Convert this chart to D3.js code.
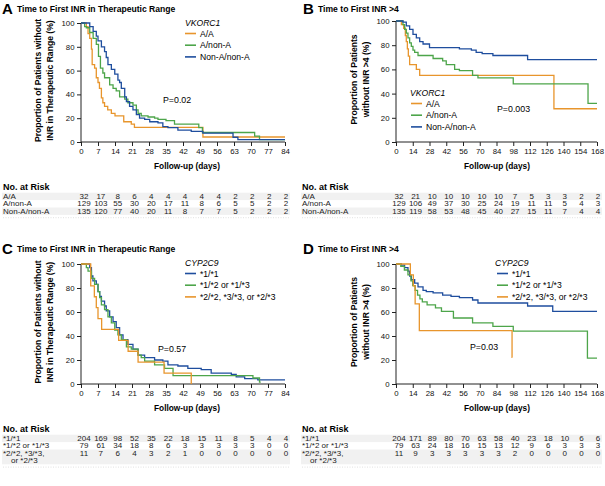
<!DOCTYPE html>
<html><head><meta charset="utf-8">
<script src="https://cdn.jsdelivr.net/npm/d3@7"></script>
<style>
body{margin:0;background:#fff;}
svg{font-family:"Liberation Sans",Arial,sans-serif;}
</style></head>
<body><svg id="c" width="605" height="486"></svg>
<script>
// ---------- data ----------
const ticksA = [0,7,14,21,28,35,42,49,56,63,70,77,84];
const ticksB = [0,14,28,42,56,70,84,98,112,126,140,154,168];
const yTicks = [0,20,40,60,80,100];

const vkLabels = ["A/A","A/non-A","Non-A/non-A"];
const cypLabels = ["*1/*1","*1/*2 or *1/*3","*2/*2, *3/*3, or *2/*3"];
const cypRiskLabels = [["*1/*1"],["*1/*2 or *1/*3"],["*2/*2, *3/*3,","or *2/*3"]];

const riskA = [[32,17,8,6,4,4,4,4,4,2,2,2,2],[129,103,55,30,20,17,11,8,6,5,5,2,2],[135,120,77,40,20,11,8,7,7,5,2,2,2]];
const riskB = [[32,21,10,10,10,10,10,7,5,3,3,2,2],[129,106,49,37,30,25,24,19,11,11,5,4,3],[135,119,58,53,48,45,40,27,15,11,7,4,4]];
const riskC = [[204,169,98,52,35,22,18,15,11,8,5,4,4],[79,61,34,18,8,6,3,3,3,3,3,0,0],[11,7,6,4,3,2,1,0,0,0,0,0,0]];
const riskD = [[204,171,89,80,70,63,58,40,23,18,10,6,6],[79,63,24,18,16,15,13,12,9,6,3,3,3],[11,9,3,3,3,3,3,2,0,0,0,0,0]];

// Panel A: time to first INR in therapeutic range, VKORC1
const A_AA = [[0,100],[2.2,97],[2.9,91],[3.6,87],[4.3,78],[4.6,65],[5.6,62],[6.3,54],[7,50],[7.6,45],[8.4,37],[9,33],[9.7,30],[11,27],[12.5,24],[14,22],[17.6,17],[20.7,15],[22,12.3],[50.2,4.2],[84,4.2]];
const A_AN = [[0,100],[1.5,97],[2.2,96],[3.6,92],[5,87],[6.3,82],[7.2,72],[8,62],[9,58],[9.7,54],[11.8,48],[13.2,45],[14.5,43],[15.9,38],[18,36],[19.3,33],[21.4,31],[22.8,27],[23.5,24],[24.8,22],[27.6,21],[30.3,20],[31.7,19],[35,18],[38.5,15],[48.5,12],[50,8],[71.5,5],[73.5,2],[84,2]];
const A_NN = [[0,100],[3.6,97],[5,93],[6.3,89],[7,85],[8.4,80],[9.7,76],[10.4,71],[11.1,65],[12.5,61],[13.9,57],[15.2,52],[15.9,50],[16.6,45],[18,38],[18.7,34],[20,30],[21.4,27],[22.8,23],[24.1,20],[26.2,19],[28.3,17],[31.7,16],[33.7,13],[35.8,12],[39.9,10],[45.4,9],[50.2,7.5],[62.6,4],[64.6,2],[84,2]];

// Panel B: time to first INR >4, VKORC1
const B_AA = [[0,100],[4.5,97],[6.4,94],[7.8,88],[8.6,83],[9.5,77],[10.3,71],[11.4,64],[17,60],[19.8,55],[132,27.5],[168,27.5]];
const B_AN = [[0,100],[5.8,97],[7.2,93],[8.6,90],[10,86],[11.4,82],[12.8,79],[14.2,76],[15.6,74],[18.4,71.5],[31,69],[39,67],[42,64],[49,60],[53,59],[64,55],[68.5,53],[98,48],[160.5,32],[168,32]];
const B_NN = [[0,100],[5.8,99],[8.6,96],[11.4,93],[14.2,89],[17,86],[19.8,83],[22.6,81],[28,78],[53,77],[63,76],[67,74],[72,73],[81,71.5],[110,68],[168,68]];

// Panel C: time to first INR in therapeutic range, CYP2C9
const C_11 = [[0,100],[3.6,97],[4.3,90],[4.9,86],[6.3,83],[7,77],[7.7,73],[8.4,69],[9.7,65],[10.4,61],[11.8,56],[13.2,52],[14.5,47],[15.9,41],[17.3,37],[19.3,33],[21.4,29],[23.5,24],[26.2,22],[30.3,20],[33.7,19],[35.8,16],[39.9,15],[44,13],[49.5,12],[53.6,9],[61.9,8],[63.9,6],[67.4,4.5],[72.8,3.5],[84,3.5]];
const C_12 = [[0,100],[2.2,97],[2.9,94],[4.3,88],[5.6,83],[7,77],[7.7,72],[8.4,66],[9.7,62],[11.1,56],[12.5,51],[13.9,45],[15.2,41],[16.6,37],[18.7,31],[20.7,29],[23.5,24],[24.8,22],[26.2,19],[30.3,16],[34.4,13],[37.9,7],[70.8,5],[73.5,1.5],[74,1.5]];
const C_22 = [[0,100],[4,81.8],[5.5,72.7],[6.3,63.6],[7,54.5],[8.5,45.5],[15.5,36.4],[19.4,27.3],[23.5,18.2],[34.2,9.1],[45.4,0]];

// Panel D: time to first INR >4, CYP2C9
const D_11 = [[0,100],[4.5,99],[7.2,97],[10,94],[11.4,90],[12.8,87],[15.6,84],[18.4,81],[22.6,78],[25.3,77],[31,76],[39,74],[46,73],[53,72],[64,70],[68.5,67.5],[110,65],[131,60.5],[168,60.5]];
const D_12 = [[0,100],[4,98],[7,95],[10,91],[12.5,86],[14,82],[16,78],[18,74],[20,71],[22,68.5],[26,66],[33,63.5],[38,60.5],[48,55],[64,51],[81,48],[98,44],[160,21.5],[168,21.5]];
const D_22 = [[0,100],[12,90.9],[14.5,81.8],[16,66.7],[19.5,44.4],[97,22.2],[97.3,22.2]];

const colors = {orange:"#E8952C", green:"#4DA54A", blue:"#1F4E9E"};

// ---------- drawing ----------
const svg = d3.select("#c");

function panel(o){
  const g = svg.append("g");
  const x = d3.scaleLinear().domain([0,o.xmax]).range(o.xr);
  const y = d3.scaleLinear().domain([0,100]).range(o.yr);
  // letter + title
  g.append("text").attr("x",o.lx).attr("y",o.ty+2).attr("font-size",15).attr("font-weight","bold").text(o.letter);
  g.append("text").attr("x",o.lx+15).attr("y",o.ty).attr("font-size",8.6).attr("font-weight","bold").text(o.title);
  // axes
  const ax = g.append("g").attr("transform",`translate(0,${o.yr[0]})`)
    .call(d3.axisBottom(x).tickValues(o.ticks).tickSize(4).tickPadding(2.5));
  const ay = g.append("g").attr("transform",`translate(${o.xr[0]},0)`)
    .call(d3.axisLeft(y).tickValues(yTicks).tickSize(4).tickPadding(2.5));
  [ax,ay].forEach(a=>{a.select(".domain").attr("stroke","#222");a.selectAll(".tick line").attr("stroke","#222");
    a.selectAll("text").attr("font-size",7.8).attr("fill","#111").attr("font-family","Liberation Sans,Arial,sans-serif");});
  ax.select(".domain").attr("d",`M${o.xr[0]},0H${o.xr[1]}`);
  ay.select(".domain").attr("d",`M0,${o.yr[0]}V${o.yr[1]}`);
  // y label
  const ym = (o.yr[0]+o.yr[1])/2 - 2;
  o.ylab.forEach((t,i)=>{
    g.append("text").attr("transform",`translate(${o.ylx+i*11.5},${ym}) rotate(-90)`)
      .attr("text-anchor","middle").attr("font-size",8.6).attr("font-weight","bold").text(t);
  });
  // x label
  g.append("text").attr("x",o.xlabx).attr("y",o.yr[0]+27).attr("text-anchor","middle")
    .attr("font-size",8.3).attr("font-weight","bold").text("Follow-up (days)");
  // curves
  const line = d3.line().x(d=>x(d[0])).y(d=>y(d[1])).curve(d3.curveStepAfter);
  o.series.forEach(s=>{
    g.append("path").attr("d",line(s.data)).attr("fill","none").attr("stroke",s.color).attr("stroke-width",1.3);
  });
  // legend
  g.append("text").attr("x",o.legx).attr("y",o.legy).attr("font-size",8.6).attr("font-style","italic").text(o.legTitle);
  o.series.slice().sort((a,b)=>a.li-b.li).forEach((s,i)=>{
    const yy = o.legy + 7.5 + i*11.7;
    g.append("line").attr("x1",o.legx+o.swx).attr("x2",o.legx+o.swx+11).attr("y1",yy).attr("y2",yy)
      .attr("stroke",s.color).attr("stroke-width",1.6);
    g.append("text").attr("x",o.legx+o.swx+15).attr("y",yy+3).attr("font-size",8.6).text(s.label);
  });
  // p value
  g.append("text").attr("x",o.px).attr("y",o.py).attr("font-size",8.8).text(o.p);
  // risk table
  const cx = d3.scaleLinear().domain([0,o.xmax]).range([o.xr[0]+3,o.xr[1]+1]);
  const rt = o.yr[0]+47.5;
  g.append("text").attr("x",o.rx).attr("y",rt).attr("font-size",9).attr("font-weight","bold").text("No. at Risk");
  let ry = rt + 9.5;
  o.risk.forEach((row,ri)=>{
    const labs = o.riskLabels[ri];
    const h = labs.length*7.4;
    if(ri%2===0){
      g.append("rect").attr("x",o.rx-1).attr("y",ry-6.3).attr("width",o.xr[1]-o.rx+6).attr("height",h)
        .attr("fill","#f1f1f1");
    }
    labs.forEach((l,li)=>{
      g.append("text").attr("x",o.rx+(li>0?8:0)).attr("y",ry+li*7.4).attr("font-size",8).attr("fill","#222").text(l);
    });
    row.forEach((v,ci)=>{
      g.append("text").attr("x",cx(o.ticks[ci])).attr("y",ry).attr("text-anchor","middle")
        .attr("font-size",8).attr("fill","#222").text(v);
    });
    ry += h;
  });
  g.append("line").attr("x1",o.rx).attr("x2",o.xr[1]+4).attr("y1",ry-3.5).attr("y2",ry-3.5)
    .attr("stroke","#ccc").attr("stroke-width",0.6).attr("stroke-dasharray","1,1.5");
}

panel({letter:"A",title:"Time to First INR in Therapeutic Range",lx:2,ty:12,
  xmax:84,xr:[81,285],yr:[142,23],ticks:ticksA,
  ylab:["Proportion of Patients without","INR in Therapeutic Range (%)"],ylx:41,xlabx:187,
  series:[{data:A_AA,color:colors.orange,label:vkLabels[0],li:0},
          {data:A_AN,color:colors.green,label:vkLabels[1],li:1},
          {data:A_NN,color:colors.blue,label:vkLabels[2],li:2}],
  legTitle:"VKORC1",legx:185,legy:26,swx:0,p:"P=0.02",px:163,py:103,
  rx:3,risk:riskA,riskLabels:vkLabels.map(d=>[d])});

panel({letter:"B",title:"Time to First INR >4",lx:303,ty:12,
  xmax:168,xr:[396,597],yr:[142,21],ticks:ticksB,
  ylab:["Proportion of Patients","without INR >4 (%)"],ylx:357,xlabx:497,
  series:[{data:B_AA,color:colors.orange,label:vkLabels[0],li:0},
          {data:B_AN,color:colors.green,label:vkLabels[1],li:1},
          {data:B_NN,color:colors.blue,label:vkLabels[2],li:2}],
  legTitle:"VKORC1",legx:410,legy:96,swx:1,p:"P=0.003",px:497,py:112,
  rx:302,risk:riskB,riskLabels:vkLabels.map(d=>[d])});

panel({letter:"C",title:"Time to First INR in Therapeutic Range",lx:2,ty:252,
  xmax:84,xr:[81,285],yr:[384,264],ticks:ticksA,
  ylab:["Proportion of Patients without","INR in Therapeutic Range (%)"],ylx:41,xlabx:187,
  series:[{data:C_11,color:colors.blue,label:cypLabels[0],li:0},
          {data:C_12,color:colors.green,label:cypLabels[1],li:1},
          {data:C_22,color:colors.orange,label:cypLabels[2],li:2}],
  legTitle:"CYP2C9",legx:185,legy:266,swx:0,p:"P=0.57",px:158,py:352,
  rx:3,risk:riskC,riskLabels:cypRiskLabels});

panel({letter:"D",title:"Time to First INR >4",lx:303,ty:252,
  xmax:168,xr:[396,597],yr:[384,264],ticks:ticksB,
  ylab:["Proportion of Patients","without INR >4 (%)"],ylx:357,xlabx:497,
  series:[{data:D_11,color:colors.blue,label:cypLabels[0],li:0},
          {data:D_12,color:colors.green,label:cypLabels[1],li:1},
          {data:D_22,color:colors.orange,label:cypLabels[2],li:2}],
  legTitle:"CYP2C9",legx:495,legy:266,swx:2,p:"P=0.03",px:470,py:350,
  rx:302,risk:riskD,riskLabels:cypRiskLabels});
</script></body></html>
